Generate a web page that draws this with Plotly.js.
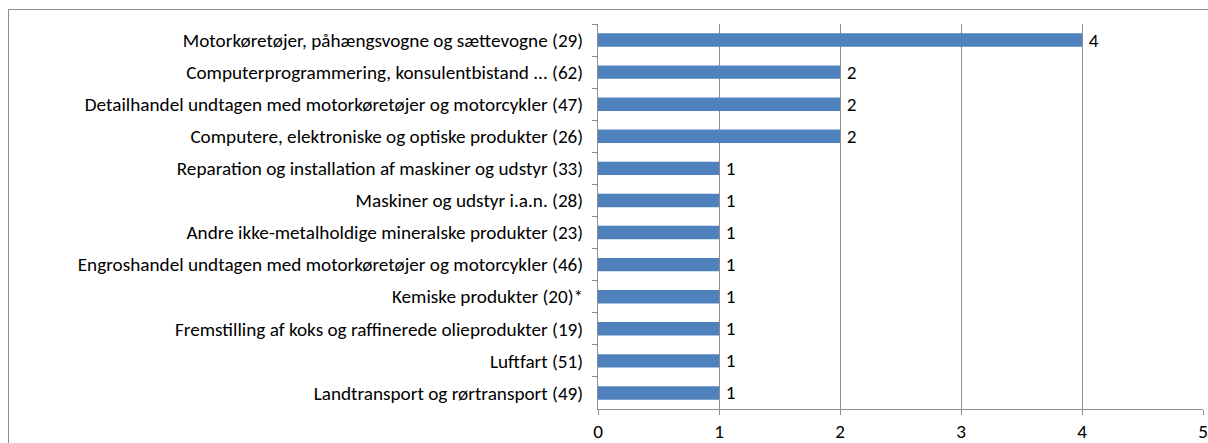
<!DOCTYPE html>
<html>
<head>
<meta charset="utf-8">
<script src="https://cdn.plot.ly/plotly-3.0.1.min.js"></script>
<style>
html,body{margin:0;padding:0;background:#fff;}
#chart{width:1208px;height:443px;}
</style>
</head>
<body>
<div id="chart"></div>
<script>
const categories = [
  "Motorkøretøjer, påhængsvogne og sættevogne (29)",
  "Computerprogrammering, konsulentbistand ... (62)",
  "Detailhandel undtagen med motorkøretøjer og motorcykler (47)",
  "Computere, elektroniske og optiske produkter (26)",
  "Reparation og installation af maskiner og udstyr (33)",
  "Maskiner og udstyr i.a.n. (28)",
  "Andre ikke-metalholdige mineralske produkter (23)",
  "Engroshandel undtagen med motorkøretøjer og motorcykler (46)",
  "Kemiske produkter (20)*",
  "Fremstilling af koks og raffinerede olieprodukter (19)",
  "Luftfart (51)",
  "Landtransport og rørtransport (49)"
];
const values = [4, 2, 2, 2, 1, 1, 1, 1, 1, 1, 1, 1];
const xTicks = [0, 1, 2, 3, 4, 5];

const FONT = "Carlito, 'Liberation Sans Narrow', 'Arial Narrow', 'Liberation Sans', sans-serif";
const FS = 19.2;

const trace = {
  type: 'bar',
  orientation: 'h',
  y: categories,
  x: values,
  marker: {color: '#4F81BD'},
  text: values.map(v => '\u2009' + v),
  textposition: 'outside',
  constraintext: 'none',
  cliponaxis: false,
  textfont: {family: FONT, size: FS, color: '#000'},
  hoverinfo: 'none'
};

const layout = {
  width: 1208, height: 443,
  margin: {l: 598, r: 5, t: 24, b: 34, pad: 0},
  paper_bgcolor: '#fff', plot_bgcolor: '#fff',
  showlegend: false,
  bargap: 0.58,
  font: {family: FONT, size: FS, color: '#000'},
  xaxis: {
    range: [0, 5], tickvals: xTicks, ticktext: xTicks.map(String),
    showgrid: true, gridcolor: '#8c8c8c', gridwidth: 1,
    zeroline: false, showline: true, linecolor: '#8c8c8c', linewidth: 1,
    ticks: 'outside', ticklen: 5, tickcolor: '#8c8c8c',
    tickfont: {family: FONT, size: FS, color: '#000'}
  },
  yaxis: {
    autorange: 'reversed', type: 'category',
    showgrid: false, zeroline: false,
    showline: true, linecolor: '#8c8c8c', linewidth: 1,
    ticks: 'outside', ticklen: 5, tickcolor: '#8c8c8c', tickson: 'boundaries',
    ticklabelstandoff: 10,
    tickfont: {family: FONT, size: FS, color: '#000'}
  },
  shapes: [{
    type: 'rect', xref: 'paper', yref: 'paper',
    x0: (8.5 - 598) / 605, x1: 1.5,
    y0: -1, y1: (409 - 9.5) / 385,
    line: {color: '#8c8c8c', width: 1}, fillcolor: 'rgba(0,0,0,0)', layer: 'below'
  }]
};

Plotly.newPlot('chart', [trace], layout, {staticPlot: true, displayModeBar: false});
</script>
</body>
</html>
